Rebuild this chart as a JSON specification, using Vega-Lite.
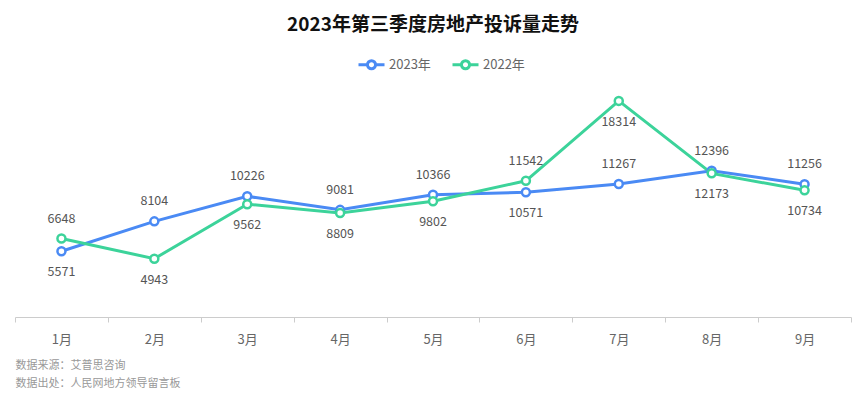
{
  "$schema": "https://vega.github.io/schema/vega-lite/v6.json",
  "width": 836,
  "height": 236,
  "autosize": {"type": "none"},
  "padding": {"left": 15, "top": 81, "right": 16, "bottom": 80},
  "background": "white",
  "config": {
    "view": {"stroke": null},
    "font": "Noto Sans CJK SC"
  },
  "title": {
    "text": "2023年第三季度房地产投诉量走势",
    "font": "Noto Sans CJK SC",
    "fontSize": 19,
    "fontWeight": "bold",
    "color": "#111111",
    "anchor": "middle",
    "baseline": "middle",
    "offset": 20,
    "dy": 14
  },
  "data": {
    "values": [
      {"m": "1月", "s": "2023年", "v": 5571},
      {"m": "2月", "s": "2023年", "v": 8104},
      {"m": "3月", "s": "2023年", "v": 10226},
      {"m": "4月", "s": "2023年", "v": 9081},
      {"m": "5月", "s": "2023年", "v": 10366},
      {"m": "6月", "s": "2023年", "v": 10571},
      {"m": "7月", "s": "2023年", "v": 11267},
      {"m": "8月", "s": "2023年", "v": 12396},
      {"m": "9月", "s": "2023年", "v": 11256},
      {"m": "1月", "s": "2022年", "v": 6648},
      {"m": "2月", "s": "2022年", "v": 4943},
      {"m": "3月", "s": "2022年", "v": 9562},
      {"m": "4月", "s": "2022年", "v": 8809},
      {"m": "5月", "s": "2022年", "v": 9802},
      {"m": "6月", "s": "2022年", "v": 11542},
      {"m": "7月", "s": "2022年", "v": 18314},
      {"m": "8月", "s": "2022年", "v": 12173},
      {"m": "9月", "s": "2022年", "v": 10734}
    ]
  },
  "encoding": {
    "x": {
      "field": "m",
      "type": "ordinal",
      "sort": null,
      "scale": {"type": "band", "paddingInner": 0, "paddingOuter": 0},
      "axis": {
        "title": ["数据来源：艾普思咨询", "数据出处：人民网地方领导留言板"],
        "titleAnchor": "start",
        "titleAlign": "left",
        "titleBaseline": "middle",
        "titleX": 0,
        "titleY": 48,
        "titleFontSize": 11,
        "titleFontWeight": "normal",
        "titleColor": "#999999",
        "titleLineHeight": 18,
        "labelAngle": 0,
        "labelFontSize": 13,
        "labelColor": "#666666",
        "labelPadding": 17,
        "labelBaseline": "middle",
        "domainColor": "#cccccc",
        "tickColor": "#cccccc",
        "tickSize": 5,
        "tickBand": "extent",
        "grid": false
      }
    },
    "y": {
      "field": "v",
      "type": "quantitative",
      "scale": {"domain": [0, 20000], "nice": false},
      "axis": null
    },
    "color": {
      "field": "s",
      "type": "nominal",
      "scale": {"domain": ["2023年", "2022年"], "range": ["#4a8af4", "#3cd39a"]},
      "legend": {
        "title": null,
        "orient": "none",
        "direction": "horizontal",
        "legendX": 342,
        "legendY": -31,
        "padding": 0,
        "symbolType": "M-1,0L-0.31,0M0.31,0L1,0M-0.31,0A0.31,0.31,0,1,1,0.31,0A0.31,0.31,0,1,1,-0.31,0",
        "symbolSize": 676,
        "symbolStrokeWidth": 3,
        "symbolFillColor": "white",
        "labelFontSize": 13,
        "labelColor": "#666666",
        "labelOffset": 3,
        "columnPadding": 15
      }
    }
  },
  "layer": [
    {
      "mark": {"type": "line", "strokeWidth": 3}
    },
    {
      "mark": {"type": "point", "filled": false, "fill": "white", "size": 64, "strokeWidth": 2.5, "opacity": 1}
    },
    {
      "transform": [
        {"filter": "(datum.s == '2023年' && datum.m != '1月' && datum.m != '6月') || (datum.s == '2022年' && (datum.m == '1月' || datum.m == '6月'))"}
      ],
      "mark": {"type": "text", "dy": -20, "fontSize": 12.5, "color": "#555555", "baseline": "middle"},
      "encoding": {"text": {"field": "v", "type": "quantitative", "format": "d"}, "color": {"value": "#555555"}}
    },
    {
      "transform": [
        {"filter": "!((datum.s == '2023年' && datum.m != '1月' && datum.m != '6月') || (datum.s == '2022年' && (datum.m == '1月' || datum.m == '6月')))"}
      ],
      "mark": {"type": "text", "dy": 21, "fontSize": 12.5, "color": "#555555", "baseline": "middle"},
      "encoding": {"text": {"field": "v", "type": "quantitative", "format": "d"}, "color": {"value": "#555555"}}
    }
  ]
}
